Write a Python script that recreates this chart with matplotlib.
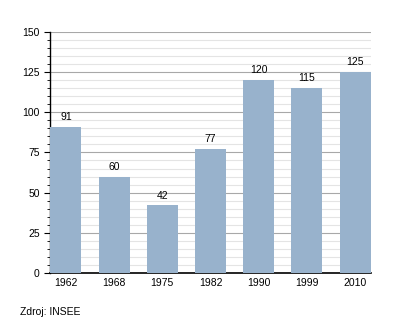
import matplotlib
matplotlib.use("Agg")
import matplotlib.pyplot as plt
from matplotlib.ticker import MultipleLocator

years = ["1962", "1968", "1975", "1982", "1990", "1999", "2010"]
population = [91, 60, 42, 77, 120, 115, 125]
source_note = "Zdroj: INSEE"

BAR_COLOR = "#98b2cc"

plt.rcParams["font.family"] = ["Liberation Sans", "DejaVu Sans"]

fig = plt.figure(figsize=(4.0, 3.23), dpi=100)
ax = fig.add_axes([0.125, 0.155, 0.8025, 0.746])

x = list(range(len(years)))
bars = ax.bar(x, population, width=0.64, color=BAR_COLOR, zorder=3)
for xi, v in zip(x, population):
    ax.text(xi, v + 3, str(v), ha="center", va="bottom", fontsize=7.5, zorder=4)

ax.set_xlim(-0.33, len(years) - 1 + 0.33)
ax.set_ylim(0, 150)
ax.set_xticks(x)
ax.set_xticklabels(years, fontsize=7.5)
ax.yaxis.set_major_locator(MultipleLocator(25))
ax.yaxis.set_minor_locator(MultipleLocator(5))
ax.tick_params(axis="y", which="major", labelsize=7.5, length=4, width=0.8)
ax.tick_params(axis="y", which="minor", length=2.5, width=0.6)
ax.tick_params(axis="x", length=0, pad=4)

ax.grid(axis="y", which="minor", color="#e4e4e4", linewidth=0.8, zorder=1)
ax.grid(axis="y", which="major", color="#a8a8a8", linewidth=0.8, zorder=2)

for side in ("top", "right"):
    ax.spines[side].set_visible(False)
ax.spines["left"].set_linewidth(1.0)
ax.spines["bottom"].set_linewidth(1.2)

fig.text(20 / 400, 1 - 312 / 323, source_note, fontsize=7.5, va="center", ha="left")

fig.savefig("out.png", dpi=100)
